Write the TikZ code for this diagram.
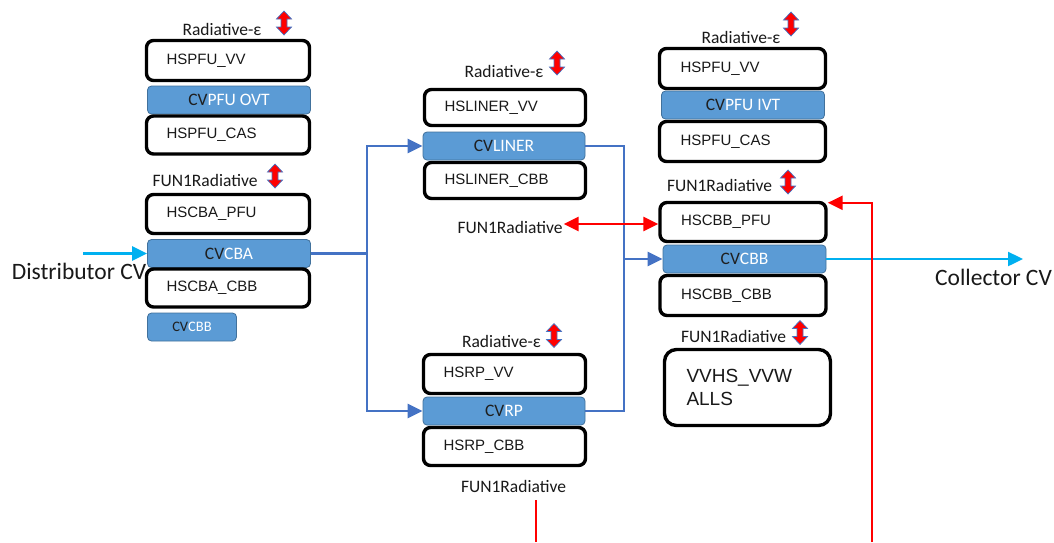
\documentclass[tikz,border=0pt]{standalone}
\usepackage{fontspec}
\setmainfont{Carlito}
\newfontfamily\arialfont{Liberation Sans}
\usetikzlibrary{arrows.meta}
\definecolor{cvfill}{HTML}{5B9BD5}
\definecolor{cvedge}{HTML}{41719C}
\definecolor{linkblue}{HTML}{4472C4}
\definecolor{feedcyan}{HTML}{00B0F0}
\definecolor{cvdark}{HTML}{1F1F1F}
\newcommand\cvtag[1]{\textcolor{cvdark}{CV}\textcolor{white}{#1}}
\begin{document}
\begin{tikzpicture}[x=1pt,y=-1pt,
  hsbox/.style={draw=black, line width=3.4pt, rounded corners=7pt, fill=white,
    minimum height=38pt, inner xsep=20pt, text width=123pt, align=left,
    font=\arialfont\fontsize{15}{18}\selectfont, text=black!90},
  cvbox/.style={draw=cvedge, line width=0.8pt, fill=cvfill, rounded corners=4pt,
    minimum width=163pt, minimum height=28pt, inner sep=0pt,
    font=\fontsize{17.5}{21}\selectfont},
  lab/.style={font=\fontsize{17.5}{21}\selectfont, anchor=base, inner sep=1pt, text=black!90},
  biglab/.style={font=\fontsize{23.5}{27}\selectfont, anchor=base, inner sep=1pt, text=black!90},
  blueline/.style={draw=linkblue, line width=2.4pt},
  redline/.style={draw=red, line width=2.6pt},
  cyanline/.style={draw=feedcyan, line width=2.4pt},
  tip/.style={-{Triangle[length=15pt,width=14pt]}},
  updown/.pic={\filldraw[fill=red, draw=linkblue, line width=0.7pt]
    (0,-12) -- (7.5,-4) -- (3,-4) -- (3,4) -- (7.5,4) -- (0,12)
    -- (-7.5,4) -- (-3,4) -- (-3,-4) -- (-7.5,-4) -- cycle;}]
\useasboundingbox (0,0) rectangle (1054,542);
\fill[white] (0,0) rectangle (1054,542);

% ---- left stack ----
\node[cvbox] (cv1) at (229,100) {\cvtag{PFU OVT}};
\node[cvbox] (cv2) at (229,253.5) {\cvtag{CBA}};
\node[cvbox, minimum width=89pt, font=\fontsize{14.5}{17}\selectfont] (cv3) at (192,327) {\cvtag{CBB}};
\node[hsbox, minimum height=40pt] (hs1) at (228,60.5) {HSPFU\_VV};
\node[hsbox] (hs2) at (228,135) {HSPFU\_CAS};
\node[hsbox, minimum height=39pt] (hs3) at (228,214) {HSCBA\_PFU};
\node[hsbox] (hs4) at (228,288) {HSCBA\_CBB};
\node[lab] (l1) at (222,35) {Radiative-ε};
\node[lab] (l2) at (205,186) {FUN1Radiative};
\pic at (284,23) {updown};
\pic at (275,176) {updown};

% ---- middle stacks ----
\node[cvbox, minimum width=162pt] (cv4) at (504,146) {\cvtag{LINER}};
\node[cvbox, minimum width=162pt] (cv5) at (504,411) {\cvtag{RP}};
\node[hsbox, minimum height=36pt, text width=121pt] (hs5) at (505,107.5) {HSLINER\_VV};
\node[hsbox, minimum height=36pt, text width=121pt] (hs6) at (505,180.5) {HSLINER\_CBB};
\node[hsbox, minimum height=39pt, text width=122pt] (hs7) at (504.5,374) {HSRP\_VV};
\node[hsbox, minimum height=38pt, text width=122pt] (hs8) at (504.5,446.5) {HSRP\_CBB};
\node[lab] (l3) at (504,77) {Radiative-ε};
\node[lab] (l4) at (510,233) {FUN1Radiative};
\node[lab] (l5) at (501.5,347) {Radiative-ε};
\node[lab] (l6) at (513.5,492) {FUN1Radiative};
\pic at (557,63) {updown};
\pic at (554,335.5) {updown};

% ---- right stack ----
\node[cvbox] (cv6) at (743,105) {\cvtag{PFU IVT}};
\node[cvbox] (cv7) at (744.5,259) {\cvtag{CBB}};
\node[hsbox, minimum height=40pt, text width=124pt, inner xsep=21pt] (hs9) at (742.5,68.5) {HSPFU\_VV};
\node[hsbox, minimum height=40pt, text width=124pt, inner xsep=21pt] (hs10) at (742.5,141.5) {HSPFU\_CAS};
\node[hsbox, minimum height=39pt, text width=124pt, inner xsep=21pt] (hs11) at (743,222) {HSCBB\_PFU};
\node[hsbox, minimum height=40pt, text width=124pt, inner xsep=21pt] (hs12) at (743,295.5) {HSCBB\_CBB};
\node[hsbox, minimum height=76pt, text width=122pt, inner xsep=22pt, rounded corners=12pt,
  font=\arialfont\fontsize{19}{23}\selectfont] (vv) at (747.5,387.5) {VVHS\_VVW\\ALLS};
\node[lab] (l7) at (741,43) {Radiative-ε};
\node[lab] (l8) at (719.5,191) {FUN1Radiative};
\node[lab] (l9) at (733.5,342) {FUN1Radiative};
\pic at (791,24) {updown};
\pic at (788,182) {updown};
\pic at (800,332.5) {updown};

% ---- inlet / outlet ----
\node[biglab] (dist) at (79,279) {Distributor CV};
\node[biglab] (coll) at (993.5,285) {Collector CV};
\coordinate (distin) at (83,253.5);
\coordinate (colout) at (1023,259);
\draw[cyanline, tip] (distin) -- (cv2.west);
\draw[cyanline, tip] (cv7.east) -- (colout);

% ---- flow paths ----
\coordinate (lbus) at (367,253.5);
\coordinate (rbus) at (624,259);
\draw[blueline] (cv2.east) -- (lbus);
\draw[blueline, tip] (lbus) |- (cv4.west);
\draw[blueline, tip] (lbus) |- (cv5.west);
\draw[blueline] (cv4.east) -| (rbus);
\draw[blueline] (cv5.east) -| (rbus);
\draw[blueline, tip] (rbus) -- (cv7.west);

% ---- radiative links ----
\draw[redline, {Triangle[length=15pt,width=14pt]}-{Triangle[length=15pt,width=14pt]}]
  ([yshift=-2pt]l4.east |- hs11.west) -- ([yshift=-2pt]hs11.west);
\coordinate (rfeed) at (872,542);
\draw[redline, tip] (rfeed) |- ([yshift=-2pt]hs11.north east);
\coordinate (rbot) at (536,542);
\coordinate (rtop) at (536,500);
\draw[redline] (rbot) -- (rtop);
\end{tikzpicture}
\end{document}
